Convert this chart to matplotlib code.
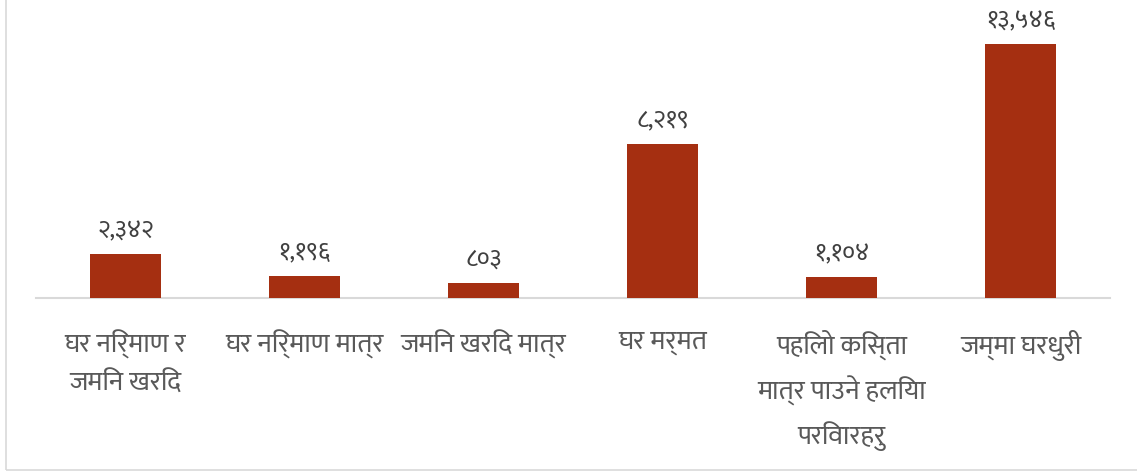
import matplotlib
matplotlib.use("Agg")
import matplotlib.pyplot as plt
from matplotlib import font_manager
from matplotlib.patches import Rectangle

# data
categories = [
    "घर निर्माण र\nजमिन खरिद",
    "घर निर्माण मात्र",
    "जमिन खरिद मात्र",
    "घर मर्मत",
    "पहिलो किस्ता\nमात्र पाउने हलिया\nपरिवारहरु",
    "जम्मा घरधुरी",
]
values = [2342, 1196, 803, 8219, 1104, 13546]
value_labels = ["२,३४२", "१,१९६", "८०३", "८,२१९", "१,१०४", "१३,५४६"]

BAR_COLOR = "#A52F11"
LABEL_COLOR = "#595959"


def find_devanagari_font():
    """Look through the installed fonts for one that has Devanagari glyphs."""
    try:
        from fontTools.ttLib import TTFont
    except ImportError:
        return None
    preferred = []
    others = []
    for path in font_manager.findSystemFonts():
        try:
            tt = TTFont(path, fontNumber=0, lazy=True)
            cmap = tt.getBestCmap() or {}
        except Exception:
            continue
        if 0x0918 in cmap and 0x0966 in cmap:
            name = font_manager.FontProperties(fname=path).get_name()
            if "Devanagari" in name or "Mukta" in name or "Lohit" in name:
                preferred.append(name)
            else:
                others.append(name)
    found = preferred + others
    return found[0] if found else None


dev_font = find_devanagari_font()
families = [dev_font, "DejaVu Sans"] if dev_font else ["DejaVu Sans"]
plt.rcParams["font.family"] = families

fig = plt.figure(figsize=(11.37, 4.73), dpi=100)
ax = fig.add_axes([36 / 1137, 175 / 473, 1074 / 1137, 298 / 473])

x = list(range(len(categories)))
bars = ax.bar(x, values, width=0.4, color=BAR_COLOR, zorder=3)

ax.set_xlim(-0.5, len(categories) - 0.5)
ax.set_ylim(0, 13546 * 298 / 254)

for rect, lab in zip(bars, value_labels):
    ax.annotate(lab, xy=(rect.get_x() + rect.get_width() / 2, rect.get_height()),
                xytext=(0, 8), textcoords="offset points",
                ha="center", va="bottom", fontsize=18, color="#404040")

ax.set_xticks(x)
ax.set_xticklabels(categories, fontsize=19.5, color=LABEL_COLOR, linespacing=1.65)
ax.tick_params(axis="x", length=0, pad=23)
ax.set_yticks([])

for side in ["top", "right", "left"]:
    ax.spines[side].set_visible(False)
ax.spines["bottom"].set_color("#D9D9D9")
ax.spines["bottom"].set_linewidth(1.5)

# light frame around the chart area (left and bottom edges visible)
fig.patches.append(Rectangle((6 / 1137, 3 / 473), 1.2, 1.2, transform=fig.transFigure,
                             fill=False, edgecolor="#D9D9D9", linewidth=1.2))

fig.savefig("out.png", dpi=100)
